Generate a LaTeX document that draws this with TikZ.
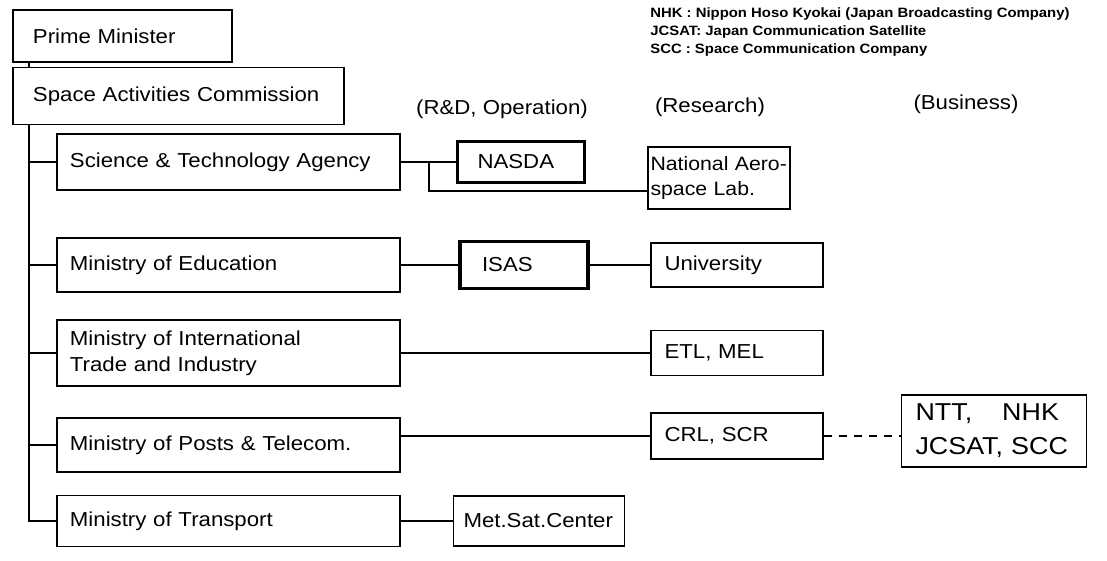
\documentclass[tikz,border=0pt]{standalone}
\usepackage{fontspec}
\setmainfont{Liberation Sans}[FakeStretch=1.1]

\newcommand{\orgfont}{\fontsize{11.5}{14.7}\selectfont}
\newcommand{\labfont}{\fontsize{11}{14.2}\selectfont}
\newcommand{\keyfont}{\fontsize{7.7}{9}\selectfont\bfseries}
\newcommand{\bigfont}{\fontsize{13.9}{19.5}\selectfont}

\tikzset{
  govbox/.style={draw, line width=1.1pt, anchor=west, align=left, font=\orgfont,
    inner xsep=0.26cm, text width=6.34cm, minimum height=1.08cm},
  topbox/.style={govbox, inner xsep=0.4cm},
  labbox/.style={draw, line width=1.1pt, align=left, font=\orgfont,
    inner xsep=0.27cm, text width=2.9cm, minimum height=0.9cm},
  keylab/.style={labbox, line width=1.8pt},
  colhead/.style={font=\orgfont, inner sep=0pt},
  legline/.style={font=\keyfont, anchor=west, inner sep=0pt},
  link/.style={line width=1pt},
  weaklink/.style={link, dash pattern=on 0.17cm off 0.13cm},
}

\begin{document}
\begin{tikzpicture}[x=0.02cm, y=-0.02cm]
  \useasboundingbox (0,0) rectangle (1107,561);

  % key to the abbreviations
  \node[legline] (keyNHK) at (650,14) {NHK : Nippon Hoso Kyokai (Japan Broadcasting Company)};
  \node[legline] (keyJC) at (650,32) {JCSAT: Japan Communication Satellite};
  \node[legline] (keySCC) at (650,50) {SCC : Space Communication Company};

  % government
  \node[topbox, text width=3.58cm, minimum height=1.04cm] (PM) at (12,36) {Prime Minister};
  \node[topbox, text width=5.82cm, minimum height=1.14cm] (SAC) at (12,96) {Space Activities Commission};
  \node[govbox, minimum height=1.12cm] (SciA) at (56,162) {Science \& Technology Agency};
  \node[govbox] (Edu) at (56,265) {Ministry of Education};
  \node[govbox, minimum height=1.32cm] (MITI) at (56,353) {Ministry of International\\Trade and Industry};
  \node[govbox] (Posts) at (56,445) {Ministry of Posts \& Telecom.};
  \node[govbox, minimum height=1.02cm] (Trans) at (56,521) {Ministry of Transport};

  % column headings
  \node[colhead] (hdRD) at (502,109) {(R\&D, Operation)};
  \node[colhead] (hdRes) at (710,107) {(Research)};
  \node[colhead] (hdBus) at (966,104) {(Business)};

  % agencies and labs
  \node[keylab, text width=1.74cm, inner xsep=0.4cm, minimum height=0.82cm] (NASDA) at (521,162) {NASDA};
  \node[labbox, font=\labfont, text width=2.74cm, inner xsep=0.05cm, minimum height=1.24cm] (NAL) at (719,178) {National Aero-\\space Lab.};
  \node[keylab, text width=1.68cm, inner xsep=0.44cm, minimum height=0.94cm] (ISAS) at (524,265) {ISAS};
  \node[labbox, minimum height=0.88cm] (Univ) at (737,265) {University};
  \node[labbox] (ETL) at (737,353) {ETL, MEL};
  \node[labbox, minimum height=0.92cm] (CRL) at (737,436) {CRL, SCR};
  \node[labbox, text width=3.02cm, inner xsep=0.2cm, minimum height=1cm] (MSC) at (539,521) {Met.Sat.Center};
  \node[labbox, font=\bigfont, text width=3.14cm, inner xsep=0.28cm, minimum height=1.44cm] (NTT) at (994,431) {NTT,\hspace{0.6cm}NHK\\JCSAT, SCC};

  % trunk and branches
  \coordinate (trunk) at (29,0);
  \draw[link] (PM.south -| trunk) -- (SAC.north -| trunk);
  \draw[link] (SAC.south -| trunk) |- (Trans.west);
  \draw[link] (SciA.west -| trunk) -- (SciA.west);
  \draw[link] (Edu.west -| trunk) -- (Edu.west);
  \draw[link] (MITI.west -| trunk) -- (MITI.west);
  \draw[link] (Posts.west -| trunk) -- (Posts.west);

  \path[link]
    (SciA) edge (NASDA)
    (Edu) edge (ISAS)
    (ISAS) edge (Univ)
    (MITI) edge (ETL)
    (Trans) edge (MSC);
  \coordinate (fork) at (429,162);
  \draw[link] (fork) |- ([yshift=-0.26cm]NAL.west);
  \draw[link] (Posts.east |- CRL) -- (CRL);
  \draw[weaklink] (CRL) -- (CRL -| NTT.west);
\end{tikzpicture}
\end{document}
